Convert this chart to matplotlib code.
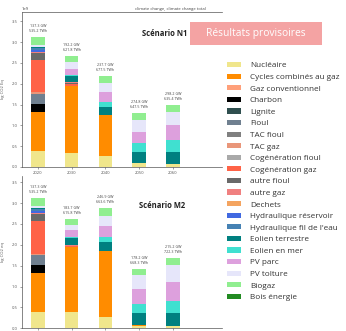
import matplotlib
matplotlib.use("Agg")
import matplotlib.pyplot as plt
from matplotlib.patches import Patch, Rectangle

plt.rcParams['font.family'] = ['Open Sans', 'DejaVu Sans']

years = ["2020", "2030", "2040", "2050", "2060"]

sources = ["Nucléaire", "Cycles combinés au gaz", "Gaz conventionnel", "Charbon",
           "Lignite", "Fioul", "TAC fioul", "TAC gaz", "Cogénération fioul",
           "Cogénération gaz", "autre fioul", "autre gaz", "Dechets",
           "Hydraulique réservoir", "Hydraulique fil de l'eau", "Eolien terrestre",
           "Eolien en mer", "PV parc", "PV tolture", "Biogaz", "Bois énergie"]

colors = ["#f0e68c", "#ff8c00", "#ffa07a", "#000000", "#2f4f4f", "#708090",
          "#808080", "#e9967a", "#a9a9a9", "#ff6347", "#696969", "#f08080",
          "#f4a460", "#4169e1", "#4682b4", "#008080", "#40e0d0", "#dda0dd",
          "#e6e6fa", "#90ee90", "#228b22"]

# emissions per source (1e9 kg CO2 eq), one list per year, in the order of `sources`
n1_2020 = [0.39, 0.94, 0, 0.18, 0, 0.24, 0, 0.04, 0, 0.79, 0.15, 0.03, 0, 0.04, 0.06, 0.02, 0, 0, 0.04, 0.20, 0]
n1_2030 = [0.33, 1.62, 0, 0, 0, 0, 0, 0, 0, 0.04, 0.03, 0.01, 0, 0, 0, 0.16, 0.03, 0.13, 0.16, 0.15, 0]
n1_2040 = [0.27, 0.98, 0, 0, 0, 0, 0, 0, 0, 0, 0, 0, 0, 0, 0, 0.20, 0.12, 0.22, 0.23, 0.17, 0]
n1_2050 = [0.09, 0.01, 0, 0, 0, 0, 0, 0, 0, 0, 0, 0, 0, 0, 0, 0.27, 0.20, 0.28, 0.28, 0.16, 0]
n1_2060 = [0.07, 0, 0, 0, 0, 0, 0, 0, 0, 0, 0, 0, 0, 0, 0, 0.30, 0.28, 0.35, 0.33, 0.16, 0]

m2_2020 = [0.39, 0.94, 0, 0.18, 0, 0.24, 0, 0.04, 0, 0.79, 0.15, 0.03, 0, 0.04, 0.06, 0.02, 0, 0, 0.04, 0.20, 0]
m2_2030 = [0.38, 1.57, 0, 0, 0, 0, 0, 0, 0, 0.03, 0, 0.02, 0, 0, 0, 0.16, 0.03, 0.16, 0.13, 0.14, 0]
m2_2040 = [0.26, 1.58, 0, 0, 0, 0, 0, 0, 0, 0, 0, 0, 0, 0, 0, 0.22, 0.13, 0.25, 0.24, 0.20, 0]
m2_2050 = [0.05, 0.03, 0, 0, 0, 0, 0, 0, 0, 0, 0, 0, 0, 0, 0, 0.28, 0.22, 0.36, 0.34, 0.14, 0]
m2_2060 = [0.05, 0, 0, 0, 0, 0, 0, 0, 0, 0, 0, 0, 0, 0, 0, 0.31, 0.30, 0.44, 0.42, 0.16, 0]

n1_labels = ["137.3 GW\n535.2 TWh", "192.2 GW\n621.8 TWh", "237.7 GW\n677.5 TWh",
             "274.8 GW\n647.5 TWh", "298.2 GW\n635.4 TWh"]
m2_labels = ["137.3 GW\n535.2 TWh", "183.7 GW\n615.8 TWh", "246.9 GW\n663.6 TWh",
             "178.2 GW\n668.3 TWh", "215.2 GW\n722.3 TWh"]

n1 = [n1_2020, n1_2030, n1_2040, n1_2050, n1_2060]
m2 = [m2_2020, m2_2030, m2_2040, m2_2050, m2_2060]

W, H = 346, 331
fig = plt.figure(figsize=(W / 100, H / 100), dpi=100)

ax1 = fig.add_axes([22 / W, 1 - 167 / H, 200 / W, 155 / H])
ax2 = fig.add_axes([22 / W, 1 - 328.3 / H, 200 / W, 152 / H])


def draw(ax, data, labels, ylab, top_spine, show_years):
    x = list(range(len(years)))
    bottoms = [0.0] * len(years)
    for i, src in enumerate(sources):
        vals = [d[i] for d in data]
        ax.bar(x, vals, width=0.4, bottom=bottoms, color=colors[i], linewidth=0)
        bottoms = [b + v for b, v in zip(bottoms, vals)]
    for xi, tot, lab in zip(x, bottoms, labels):
        ax.text(xi, tot + 0.1, lab, ha="center", va="bottom", fontsize=2.6,
                color="#444444", linespacing=1.3)
    ax.set_xticks(x)
    ax.set_xticklabels(years)
    ax.set_xlim(-0.475, 5.46)
    ax.set_yticks([0, 0.5, 1.0, 1.5, 2.0, 2.5, 3.0, 3.5])
    ax.set_yticklabels(["0.0", "0.5", "1.0", "1.5", "2.0", "2.5", "3.0", "3.5"])
    ax.tick_params(labelsize=3, colors="#555555", length=1.5, width=0.4, pad=1.5)
    ax.tick_params(axis="x", labelbottom=show_years)
    ax.set_ylabel(ylab, fontsize=3, color="#555555", labelpad=5)
    ax.spines["right"].set_visible(False)
    ax.spines["top"].set_visible(top_spine)
    for s in ["left", "bottom", "top"]:
        ax.spines[s].set_color("#555555")
        ax.spines[s].set_linewidth(0.5)


draw(ax1, n1, n1_labels, "kg CO2 Eq", True, True)
ax1.set_ylim(0, 3.72)
draw(ax2, m2, m2_labels, "kg CO2 eq", False, False)
ax2.set_ylim(0, 3.64)

fig.text(170 / W, 1 - 9 / H, "climate change, climate change total", fontsize=3,
         ha="center", va="center", color="#444444")
fig.text(22 / W, 1 - 9 / H, "1e9", fontsize=3, ha="left", va="center", color="#444444")

fig.text(165 / W, 1 - 33 / H, "Scénario N1", fontsize=5.5, fontweight="bold",
         ha="center", va="center", color="#222222")
fig.text(162 / W, 1 - 205 / H, "Scénario M2", fontsize=5.5, fontweight="bold",
         ha="center", va="center", color="#222222")

fig.patches.append(Rectangle((190 / W, 1 - 45 / H), 132 / W, 23 / H,
                             transform=fig.transFigure, facecolor="#f4a3a3",
                             edgecolor="none", zorder=3))
fig.text(256 / W, 1 - 33.5 / H, "Résultats provisoires", fontsize=7.4, color="white",
         ha="center", va="center", zorder=4)

handles = [Patch(facecolor=c, edgecolor="none") for c in colors]
fig.legend(handles, sources, loc="upper left", bbox_to_anchor=(227 / W, 1 - 62 / H),
           frameon=False, fontsize=5.9, handlelength=1.7, handleheight=0.6,
           handletextpad=1.1, labelspacing=0.5, borderaxespad=0, borderpad=0,
           labelcolor="#333333")

fig.savefig("out.png", dpi=100)
